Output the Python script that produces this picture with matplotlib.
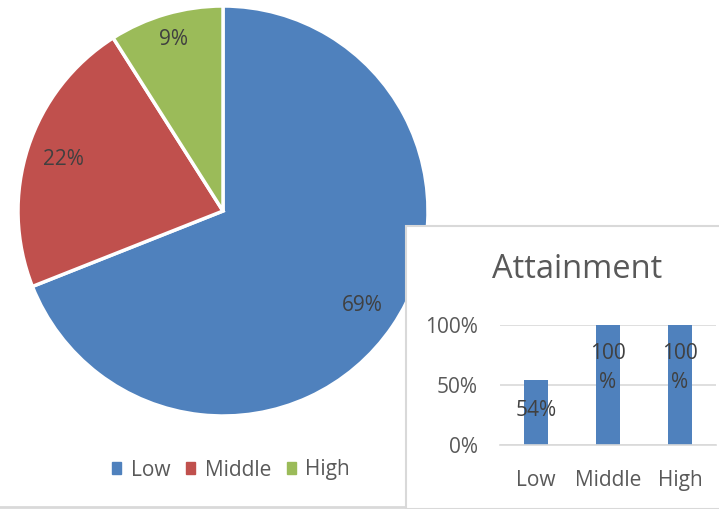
import matplotlib
matplotlib.use("Agg")
import numpy as np
import matplotlib.pyplot as plt
from matplotlib.patches import Rectangle
from matplotlib.ticker import FuncFormatter

plt.rcParams['font.family'] = ['Open Sans', 'DejaVu Sans']

# Data
pie_labels = ["Low", "Middle", "High"]
pie_values = [69, 22, 9]
bar_categories = ["Low", "Middle", "High"]
bar_values = [0.54, 1.00, 1.00]
bar_value_labels = ["54%", "100\n%", "100\n%"]

colors = ["#4F81BD", "#C0504D", "#9BBB59"]
text_dark = "#404040"
text_mid = "#595959"
FS = 15

W, H = 719, 509
fig = plt.figure(figsize=(W / 100, H / 100), dpi=100)

def fx(px):
    return px / W

def fy(py):
    return (H - py) / H

# Pie axes: center (223, 211), radius 205
cx, cy, r = 223, 211, 205
ax = fig.add_axes([fx(cx - r), fy(cy + r), 2 * r / W, 2 * r / H])
ax.set_zorder(0)
wedges, texts, autotexts = ax.pie(
    pie_values, colors=colors, startangle=90, counterclock=False,
    radius=1.0, autopct=lambda p: f"{p:.0f}%", pctdistance=0.82,
    wedgeprops=dict(edgecolor="white", linewidth=2.5),
    textprops=dict(color=text_dark, fontsize=FS))
label_dist = [0.82, 0.82, 0.87]
for w, t, d in zip(wedges, autotexts, label_dist):
    ang = np.deg2rad((w.theta1 + w.theta2) / 2)
    t.set_position((d * np.cos(ang), d * np.sin(ang)))
ax.set_xlim(-1, 1)
ax.set_ylim(-1, 1)
ax.set_aspect("equal")
ax.axis("off")

# Legend
handles = [Rectangle((0, 0), 1, 1, color=c) for c in colors]
fig.legend(handles, pie_labels, loc="center", bbox_to_anchor=(fx(231), fy(470)),
           ncol=3, frameon=False, fontsize=FS, labelcolor=text_mid,
           handlelength=0.45, handleheight=0.45, handletextpad=0.45,
           columnspacing=0.75)

# Bottom chart border line
fig.add_artist(plt.Line2D([0, 1], [fy(507), fy(507)], color="#D9D9D9",
                          linewidth=2, transform=fig.transFigure, zorder=1))

# Inset background panel
panel = Rectangle((fx(405.5), fy(509)), 1.0, fy(225.5) - fy(509),
                  transform=fig.transFigure, facecolor="white",
                  edgecolor="#D9D9D9", linewidth=1.5, zorder=1)
fig.add_artist(panel)

# Bar axes: x from 500 to 716, y from 445 (0) to 325 (1)
bx = fig.add_axes([fx(500), fy(445), (716 - 500) / W, (445 - 325) / H])
bx.set_zorder(2)
bx.patch.set_alpha(0)
xpos = list(range(len(bar_categories)))
bx.bar(xpos, bar_values, width=0.32, color=colors[0], zorder=2)
bx.set_xlim(-0.5, 2.5)
bx.set_ylim(0, 1.0)
bx.set_yticks([0, 0.5, 1.0])
bx.yaxis.set_major_formatter(FuncFormatter(lambda v, p: f"{v*100:.0f}%"))
bx.set_xticks(xpos)
bx.set_xticklabels(bar_categories)
bx.grid(axis="y", color="#D9D9D9", linewidth=1.2, zorder=0)
bx.set_axisbelow(True)
for s in ["top", "right", "left"]:
    bx.spines[s].set_visible(False)
bx.spines["bottom"].set_color("#D9D9D9")
bx.spines["bottom"].set_linewidth(1.2)
bx.tick_params(axis="both", length=0, labelsize=FS, colors=text_mid)
bx.tick_params(axis="y", pad=16)
bx.tick_params(axis="x", pad=18)

for x, v, lab in zip(xpos, bar_values, bar_value_labels):
    bx.annotate(lab, (x, v), xytext=(0, -30 if v < 0.9 else -43),
                textcoords="offset pixels", ha="center", va="center",
                color=text_dark, fontsize=FS, linespacing=1.45)

fig.text(fx(577), fy(270), "Attainment", ha="center", va="center",
         fontsize=23.5, color=text_mid, zorder=3)

fig.savefig("out.png", dpi=100)
